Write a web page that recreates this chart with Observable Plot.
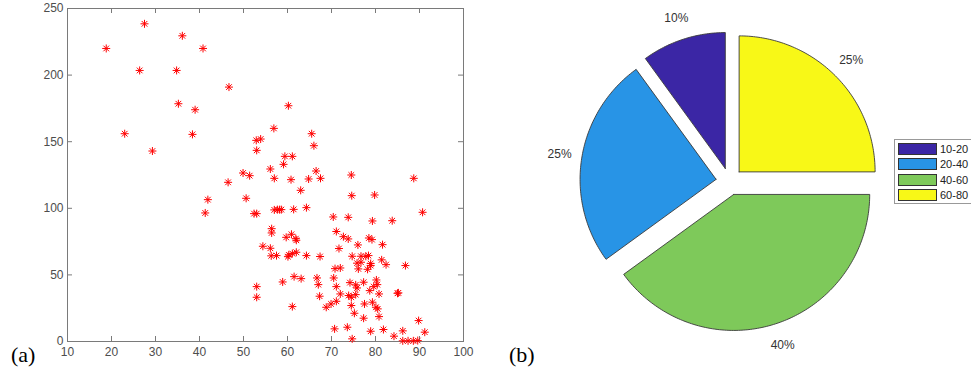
<!DOCTYPE html>
<html>
<head>
<meta charset="utf-8">
<script src="https://cdn.jsdelivr.net/npm/d3@7"></script>
<script src="https://cdn.jsdelivr.net/npm/@observablehq/plot@0.6"></script>
<style>
  body { margin: 0; background: #fff; }
  #wrap { position: relative; width: 971px; height: 373px; overflow: hidden; background: #fff; }
  #a { position: absolute; left: 0; top: 0; }
  #b { position: absolute; left: 490px; top: 0; }
  .panel-label { position: absolute; font-family: "Liberation Serif", "Times New Roman", serif; font-size: 22px; color: #000; line-height: 1; }
  #legend { position: absolute; left: 894px; top: 139px; width: 90px; height: 65px; border: 1px solid #999; background: #fff; box-sizing: border-box; }
  .lg-row { position: absolute; left: 3px; height: 11px; display: flex; align-items: center; }
  .lg-sw { width: 37px; height: 10px; border: 1px solid #333; box-sizing: content-box; }
  .lg-tx { margin-left: 3px; font-family: "Liberation Sans", Arial, sans-serif; font-size: 11px; color: #222; }
</style>
</head>
<body>
<div id="wrap">
  <div id="a"></div>
  <div id="b"></div>
  <div class="panel-label" style="left:11px; top:344px;">(a)</div>
  <div class="panel-label" style="left:509px; top:344px;">(b)</div>
  <div id="legend"></div>
</div>
<script>
// ---------- Data: scatter (a) ----------
const scatterX = [
  18.8, 27.5, 36.1, 40.8, 26.4, 34.8, 46.7, 35.2, 39.0, 23.0, 38.4, 29.3, 46.5, 41.9, 41.3,
  60.2, 56.9, 65.5, 52.9, 53.9, 66.0, 53.0, 59.4, 61.1, 59.1, 66.5, 56.1, 49.9, 51.4, 57.0,
  60.8, 64.8, 67.5, 74.5, 88.7, 63.0, 50.6, 52.4, 53.0, 57.0, 57.7, 58.2, 58.6, 61.4, 64.3,
  70.4, 73.8, 79.3, 83.8, 90.7, 74.6, 79.8, 56.4, 56.4, 59.7, 60.9, 61.9, 62.0, 54.4, 56.1,
  56.3, 57.5, 60.1, 60.3, 61.1, 62.0, 64.3, 67.4, 71.1, 72.7, 73.8, 78.5, 79.2, 76.0, 81.6,
  71.7, 74.7, 76.7, 77.8, 78.4, 81.4, 78.9, 82.4, 86.8, 70.8, 72.0, 75.8, 76.7, 76.1, 78.2,
  78.9, 53.0, 53.0, 58.9, 61.5, 63.1, 61.1, 66.7, 67.0, 67.3, 70.5, 71.1, 72.0, 68.8, 69.9,
  71.1, 74.2, 75.5, 75.8, 73.9, 74.5, 75.5, 74.5, 75.2, 77.3, 80.2, 80.4, 79.6, 78.7, 80.8,
  85.0, 85.2, 77.5, 79.3, 80.1, 80.5, 80.8, 77.3, 70.7, 73.6, 74.7, 78.9, 81.8, 84.2, 86.2,
  86.2, 87.4, 88.6, 89.6, 89.8, 91.2
];
const scatterY = [
  220, 238.5, 229.5, 220, 203.5, 203.5, 191, 178.5, 174, 156, 155.5, 143, 119.5, 106.5, 96.5,
  177, 160, 156, 151, 152, 147, 143.5, 139, 139, 133, 128, 129.5, 126.5, 124.5, 122.5,
  121.5, 122, 122.5, 125, 122.5, 113.5, 107.5, 96, 96, 98.8, 99, 99, 99, 99.2, 100.5,
  93.5, 93.2, 90.5, 90.7, 97, 109.5, 110, 84.7, 81.5, 78.2, 80.5, 77.2, 76, 71.5, 70,
  64.3, 64.5, 63.7, 65, 66, 67, 64.5, 63.8, 82.6, 78.7, 77, 77.7, 76.5, 72.5, 72.7,
  69.8, 64, 64, 64, 64.5, 61.3, 58.5, 57.7, 57, 54.7, 55.2, 58.8, 59.5, 54.5, 54.2,
  57, 41.2, 33.2, 44.7, 48.7, 47.2, 26.2, 47.7, 42.7, 34, 47.7, 41.2, 35.7, 25.7, 28.2,
  30.2, 44.2, 42.5, 40.2, 34.5, 33.2, 35.2, 27, 21.2, 44.5, 46.2, 42.7, 41.2, 38.2, 35.7,
  36.2, 36.5, 28.2, 29.5, 25.7, 24.5, 18.7, 17.5, 9.5, 10.7, 2, 7.7, 9, 4, 8,
  0.5, 0.5, 0.5, 0.7, 15.7, 7
];
const xTicks = [10, 20, 30, 40, 50, 60, 70, 80, 90, 100];
const yTicks = [0, 50, 100, 150, 200, 250];

// ---------- Data: pie (b) ----------
const categories = ["10-20", "20-40", "40-60", "60-80"];
const shares = [10, 25, 40, 25];
const pieLabels = ["10%", "25%", "40%", "25%"];
const colors = ["#3b26a5", "#2894e6", "#7ec95a", "#f8f817"];

// ---------- Scatter ----------
const points = scatterX.map((x, i) => ({x, y: scatterY[i]}));
const asterisk8 = {
  draw(context, size) {
    const r = Math.sqrt(size / Math.PI);
    const d = r * Math.SQRT1_2;
    context.moveTo(-r, 0); context.lineTo(r, 0);
    context.moveTo(0, -r); context.lineTo(0, r);
    context.moveTo(-d, -d); context.lineTo(d, d);
    context.moveTo(-d, d); context.lineTo(d, -d);
  }
};
const W1 = 490, H1 = 373, mL = 67, mR = 27, mT = 8, mB = 32;
const tickPx = 5;
const yTickLen = tickPx * (250 - 0) / (H1 - mT - mB);
const xTickLen = tickPx * (100 - 10) / (W1 - mL - mR);
const axisColor = "#7a7a7a";

const scatter = Plot.plot({
  width: W1, height: H1,
  marginLeft: mL, marginRight: mR, marginTop: mT, marginBottom: mB,
  style: {fontFamily: "'Liberation Sans', Arial, sans-serif", fontSize: "12px", background: "transparent"},
  x: {domain: [10, 100]},
  y: {domain: [0, 250]},
  marks: [
    Plot.ruleX(xTicks, {x: d => d, y1: 0, y2: yTickLen, stroke: axisColor}),
    Plot.ruleX(xTicks, {x: d => d, y1: 250, y2: 250 - yTickLen, stroke: axisColor}),
    Plot.ruleY(yTicks, {y: d => d, x1: 10, x2: 10 + xTickLen, stroke: axisColor}),
    Plot.ruleY(yTicks, {y: d => d, x1: 100, x2: 100 - xTickLen, stroke: axisColor}),
    Plot.frame({stroke: axisColor, strokeWidth: 1}),
    Plot.axisX(xTicks, {tickSize: 0, tickPadding: 6, label: null, fill: "#4d4d4d", fontSize: 12}),
    Plot.axisY(yTicks, {tickSize: 0, tickPadding: 4, label: null, fill: "#4d4d4d", fontSize: 12}),
    Plot.dot(points, {x: "x", y: "y", symbol: asterisk8, r: 4, stroke: "#ff0000", fill: "none", strokeWidth: 1})
  ]
});
document.getElementById("a").appendChild(scatter);

// ---------- Pie ----------
const W2 = 481, H2 = 373;
const R = 136;           // radius in px
const cx = 239, cy = 181; // pie centre in px within panel
const explode = 0.1, labelR = 1.265;
const total = d3.sum(shares);
let cum = 0;
const polys = [];
const labels = [];
categories.forEach((cat, i) => {
  const a0 = Math.PI / 2 + 2 * Math.PI * cum / total;
  cum += shares[i];
  const a1 = Math.PI / 2 + 2 * Math.PI * cum / total;
  const am = (a0 + a1) / 2;
  const ox = explode * Math.cos(am), oy = explode * Math.sin(am);
  const n = Math.max(2, Math.ceil((a1 - a0) / (Math.PI / 180)));
  polys.push({cat, x: ox, y: oy});
  for (let k = 0; k <= n; k++) {
    const a = a0 + (a1 - a0) * k / n;
    polys.push({cat, x: ox + Math.cos(a), y: oy + Math.sin(a)});
  }
  polys.push({cat, x: ox, y: oy});
  labels.push({text: pieLabels[i], x: labelR * Math.cos(am), y: labelR * Math.sin(am)});
});

const pie = Plot.plot({
  width: W2, height: H2, margin: 0,
  style: {fontFamily: "'Liberation Sans', Arial, sans-serif", background: "transparent"},
  x: {domain: [-cx / R, (W2 - cx) / R], axis: null},
  y: {domain: [-(H2 - cy) / R, cy / R], axis: null},
  color: {domain: categories, range: colors},
  marks: [
    Plot.line(polys, {x: "x", y: "y", z: "cat", fill: "cat", stroke: "#3a3a3a", strokeWidth: 0.9, curve: "linear"}),
    Plot.text(labels, {x: "x", y: "y", text: "text", fontSize: 12, fill: "#333"})
  ]
});
document.getElementById("b").appendChild(pie);

// ---------- Legend ----------
const legend = document.getElementById("legend");
const colorScale = pie.scale("color");
categories.forEach((cat, i) => {
  const row = document.createElement("div");
  row.className = "lg-row";
  row.style.top = (3 + i * 15.6) + "px";
  const sw = document.createElement("div");
  sw.className = "lg-sw";
  sw.style.background = colorScale.apply(cat);
  const tx = document.createElement("span");
  tx.className = "lg-tx";
  tx.textContent = cat;
  row.appendChild(sw); row.appendChild(tx);
  legend.appendChild(row);
});
</script>
</body>
</html>
